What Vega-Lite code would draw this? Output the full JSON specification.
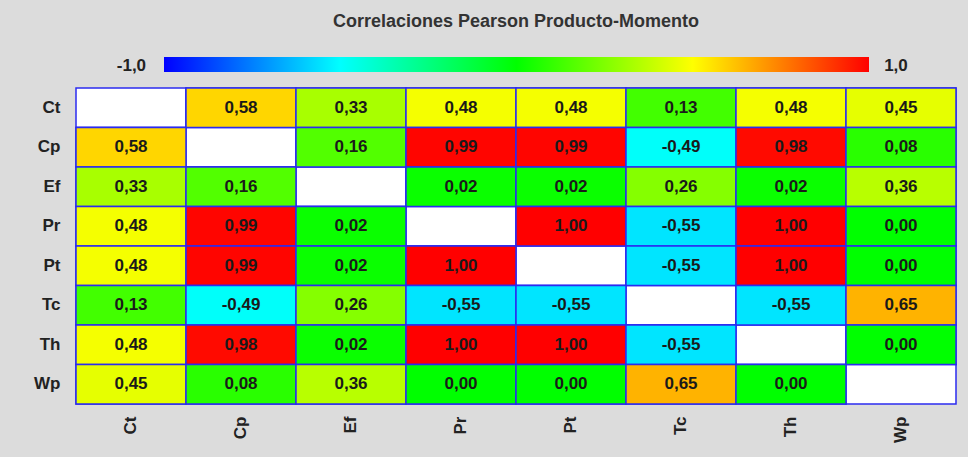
{
  "$schema": "https://vega.github.io/schema/vega-lite/v6.json",
  "width": 880,
  "height": 316,
  "autosize": "none",
  "padding": {"left": 76, "top": 88, "right": 12, "bottom": 53},
  "background": "#dcdcdc",
  "title": {
    "text": "Correlaciones Pearson Producto-Momento",
    "fontSize": 18,
    "fontWeight": "bold",
    "color": "#333333",
    "font": "Liberation Sans",
    "anchor": "middle",
    "frame": "group",
    "offset": 26
  },
  "data": {
    "values": [
      {"r": "Ct", "c": "Ct", "v": null}, {"r": "Ct", "c": "Cp", "v": 0.58}, {"r": "Ct", "c": "Ef", "v": 0.33}, {"r": "Ct", "c": "Pr", "v": 0.48}, {"r": "Ct", "c": "Pt", "v": 0.48}, {"r": "Ct", "c": "Tc", "v": 0.13}, {"r": "Ct", "c": "Th", "v": 0.48}, {"r": "Ct", "c": "Wp", "v": 0.45},
      {"r": "Cp", "c": "Ct", "v": 0.58}, {"r": "Cp", "c": "Cp", "v": null}, {"r": "Cp", "c": "Ef", "v": 0.16}, {"r": "Cp", "c": "Pr", "v": 0.99}, {"r": "Cp", "c": "Pt", "v": 0.99}, {"r": "Cp", "c": "Tc", "v": -0.49}, {"r": "Cp", "c": "Th", "v": 0.98}, {"r": "Cp", "c": "Wp", "v": 0.08},
      {"r": "Ef", "c": "Ct", "v": 0.33}, {"r": "Ef", "c": "Cp", "v": 0.16}, {"r": "Ef", "c": "Ef", "v": null}, {"r": "Ef", "c": "Pr", "v": 0.02}, {"r": "Ef", "c": "Pt", "v": 0.02}, {"r": "Ef", "c": "Tc", "v": 0.26}, {"r": "Ef", "c": "Th", "v": 0.02}, {"r": "Ef", "c": "Wp", "v": 0.36},
      {"r": "Pr", "c": "Ct", "v": 0.48}, {"r": "Pr", "c": "Cp", "v": 0.99}, {"r": "Pr", "c": "Ef", "v": 0.02}, {"r": "Pr", "c": "Pr", "v": null}, {"r": "Pr", "c": "Pt", "v": 1.0}, {"r": "Pr", "c": "Tc", "v": -0.55}, {"r": "Pr", "c": "Th", "v": 1.0}, {"r": "Pr", "c": "Wp", "v": 0.0},
      {"r": "Pt", "c": "Ct", "v": 0.48}, {"r": "Pt", "c": "Cp", "v": 0.99}, {"r": "Pt", "c": "Ef", "v": 0.02}, {"r": "Pt", "c": "Pr", "v": 1.0}, {"r": "Pt", "c": "Pt", "v": null}, {"r": "Pt", "c": "Tc", "v": -0.55}, {"r": "Pt", "c": "Th", "v": 1.0}, {"r": "Pt", "c": "Wp", "v": 0.0},
      {"r": "Tc", "c": "Ct", "v": 0.13}, {"r": "Tc", "c": "Cp", "v": -0.49}, {"r": "Tc", "c": "Ef", "v": 0.26}, {"r": "Tc", "c": "Pr", "v": -0.55}, {"r": "Tc", "c": "Pt", "v": -0.55}, {"r": "Tc", "c": "Tc", "v": null}, {"r": "Tc", "c": "Th", "v": -0.55}, {"r": "Tc", "c": "Wp", "v": 0.65},
      {"r": "Th", "c": "Ct", "v": 0.48}, {"r": "Th", "c": "Cp", "v": 0.98}, {"r": "Th", "c": "Ef", "v": 0.02}, {"r": "Th", "c": "Pr", "v": 1.0}, {"r": "Th", "c": "Pt", "v": 1.0}, {"r": "Th", "c": "Tc", "v": -0.55}, {"r": "Th", "c": "Th", "v": null}, {"r": "Th", "c": "Wp", "v": 0.0},
      {"r": "Wp", "c": "Ct", "v": 0.45}, {"r": "Wp", "c": "Cp", "v": 0.08}, {"r": "Wp", "c": "Ef", "v": 0.36}, {"r": "Wp", "c": "Pr", "v": 0.0}, {"r": "Wp", "c": "Pt", "v": 0.0}, {"r": "Wp", "c": "Tc", "v": 0.65}, {"r": "Wp", "c": "Th", "v": 0.0}, {"r": "Wp", "c": "Wp", "v": null}
    ]
  },
  "encoding": {
    "x": {
      "field": "c", "type": "nominal",
      "sort": ["Ct", "Cp", "Ef", "Pr", "Pt", "Tc", "Th", "Wp"],
      "scale": {"paddingInner": 0, "paddingOuter": 0},
      "axis": {"title": null, "orient": "bottom", "labelAngle": 270, "labelFontSize": 17, "labelFontWeight": "bold", "labelColor": "#222222", "labelFont": "Liberation Sans", "ticks": false, "domain": false, "labelPadding": 12}
    },
    "y": {
      "field": "r", "type": "nominal",
      "sort": ["Ct", "Cp", "Ef", "Pr", "Pt", "Tc", "Th", "Wp"],
      "scale": {"paddingInner": 0, "paddingOuter": 0},
      "axis": {"title": null, "labelFontSize": 17, "labelFontWeight": "bold", "labelColor": "#222222", "labelFont": "Liberation Sans", "ticks": false, "domain": false, "labelPadding": 16}
    }
  },
  "layer": [
    {
      "mark": {"type": "rect", "fill": "white", "stroke": "#2b2bf0", "strokeWidth": 1.5}
    },
    {
      "transform": [{"filter": "datum.v != null"}],
      "mark": {"type": "rect", "stroke": "#2b2bf0", "strokeWidth": 1.5, "opacity": 1},
      "encoding": {
        "color": {
          "field": "v", "type": "quantitative",
          "scale": {"domain": [-1, -0.5, 0, 0.5, 1], "range": ["#0000ff", "#00ffff", "#00ff00", "#ffff00", "#ff0000"], "interpolate": "rgb"},
          "legend": {
            "orient": "none", "legendX": 88, "legendY": -31,
            "direction": "horizontal", "gradientLength": 705, "gradientThickness": 15,
            "gradientStrokeWidth": 0, "title": null, "padding": 0,
            "values": [-1.134, 1.11],
            "labelExpr": "datum.value < 0 ? '-1,0' : '1,0'",
            "labelFontSize": 17, "labelFontWeight": "bold", "labelColor": "#222222", "labelFont": "Liberation Sans",
            "labelOffset": -14, "labelOverlap": false
          }
        }
      }
    },
    {
      "transform": [{"filter": "datum.v != null"}],
      "mark": {"type": "text", "fontSize": 17, "fontWeight": "bold", "font": "Liberation Sans", "color": "#1a1a1a"},
      "encoding": {
        "text": {"field": "v", "type": "quantitative", "format": ".2f"}
      }
    }
  ],
  "config": {
    "view": {"stroke": null},
    "locale": {"number": {"decimal": ",", "thousands": ".", "grouping": [3], "currency": ["", " €"], "minus": "-"}}
  }
}
